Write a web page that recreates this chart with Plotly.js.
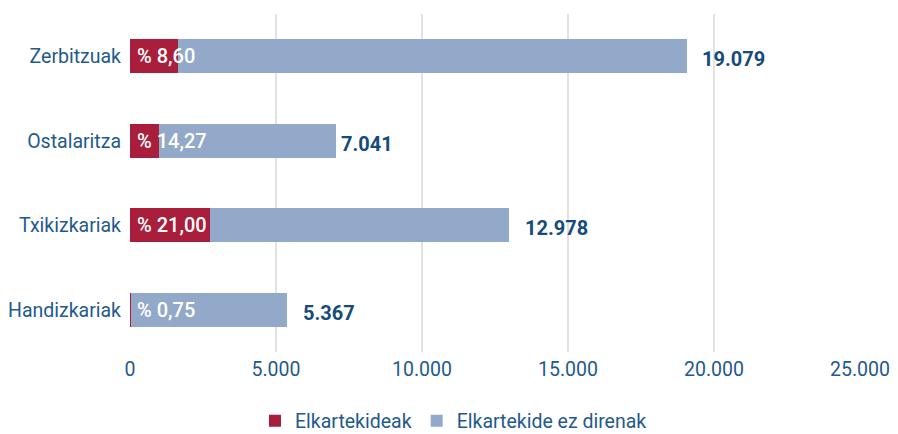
<!DOCTYPE html>
<html>
<head>
<meta charset="utf-8">
<script src="https://cdn.plot.ly/plotly-3.0.1.min.js"></script>
<style>html,body{margin:0;padding:0;background:#fff;}#chart{width:898px;height:434px;}</style>
</head>
<body>
<div id="chart"></div>
<script>
// Data
const categories = ['Zerbitzuak', 'Ostalaritza', 'Txikizkariak', 'Handizkariak'];
const totals = [19079, 7041, 12978, 5367];           // total per sector
const memberPct = [8.60, 14.27, 21.00, 0.75];        // % that are members
const seriesNames = ['Elkartekideak', 'Elkartekide ez direnak'];
const xTicks = [0, 5000, 10000, 15000, 20000, 25000];

// Derived segments
const members = totals.map((t, i) => t * memberPct[i] / 100);
const nonMembers = totals.map((t, i) => t - members[i]);

const fmtPct = p => '% ' + p.toFixed(2).replace('.', ',');
const fmtInt = n => String(n).replace(/\B(?=(\d{3})+(?!\d))/g, '.');

const RED = '#a91e3b', BLUE = '#93a9c9', TXT = '#1f5a8c', TOT = '#164b7c';
const FONT = 'Roboto, "Liberation Sans", sans-serif';
const totalGap = [16, 6, 17, 17];

const traces = [
  {type: 'bar', orientation: 'h', name: seriesNames[0], y: categories, x: members,
   marker: {color: RED}, width: 0.4, hoverinfo: 'skip'},
  {type: 'bar', orientation: 'h', name: seriesNames[1], y: categories, x: nonMembers,
   marker: {color: BLUE}, width: 0.4, hoverinfo: 'skip'}
];

const annotations = [];
categories.forEach((c, i) => {
  annotations.push({x: 0, y: c, xref: 'x', yref: 'y', text: fmtPct(memberPct[i]),
    showarrow: false, xanchor: 'left', xshift: 5,
    font: {family: FONT, size: 20, color: '#ffffff', weight: 500}});
  annotations.push({x: totals[i], y: c, xref: 'x', yref: 'y', text: fmtInt(totals[i]),
    showarrow: false, xanchor: 'left', xshift: totalGap[i] - 3, yshift: -3,
    font: {family: FONT, size: 20, color: TOT, weight: 700}});
});

const layout = {
  width: 898, height: 434,
  margin: {l: 130, r: 38, t: 14, b: 82, pad: 0},
  paper_bgcolor: '#ffffff', plot_bgcolor: '#ffffff',
  barmode: 'stack',
  separators: ',.',
  font: {family: FONT, size: 19, color: TXT},
  xaxis: {range: [0, 25000], tickvals: xTicks, ticktext: xTicks.map(fmtInt),
    showgrid: true, gridcolor: '#e2e2e2', gridwidth: 2, zeroline: false, showline: false,
    ticks: '', ticklabelstandoff: 3,
    tickfont: {family: FONT, size: 19.5, color: TXT}, fixedrange: true},
  yaxis: {categoryorder: 'array', categoryarray: categories, autorange: 'reversed',
    showgrid: false, zeroline: false, showline: false, ticks: '',
    ticklabelstandoff: 8,
    tickfont: {family: FONT, size: 19.5, color: TXT}, fixedrange: true},
  legend: {orientation: 'h', xref: 'container', yref: 'container', x: 0.505, y: 0.03,
    xanchor: 'center', yanchor: 'middle', traceorder: 'normal',
    font: {family: FONT, size: 19.5, color: TXT}, itemwidth: 30},
  showlegend: true,
  annotations: annotations
};

Plotly.newPlot('chart', traces, layout, {displayModeBar: false, staticPlot: true});
</script>
</body>
</html>
